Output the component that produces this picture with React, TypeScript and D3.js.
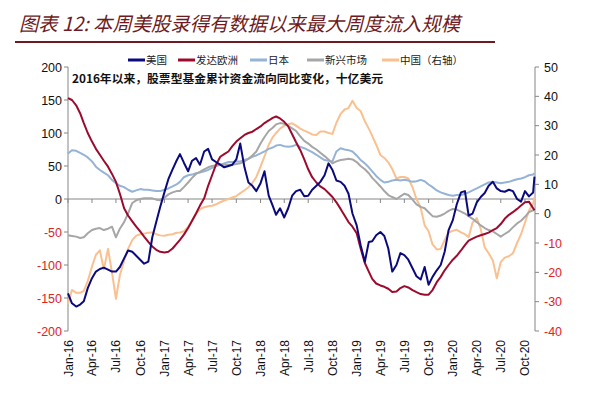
import React from 'react';
import * as d3 from 'd3';

// semi-monthly observations (1st and 16th of each month), last point = 6 Nov 2020
const dates: Date[] = d3
  .range(117)
  .map((i) => new Date(2016, Math.floor(i / 2), i % 2 ? 16 : 1))
  .concat([new Date(2020, 10, 6)]);

// 十亿美元, left axis
const usa = [
  -143, -158, -163, -160, -155, -135, -120, -110, -106, -104,
  -107, -110, -110, -103, -90, -78, -80, -86, -92, -98,
  -95, -58, -35, -12, 10, 30, 45, 58, 68, 55,
  42, 58, 62, 52, 72, 76, 60, 56, 52, 48,
  50, 52, 60, 84, 48, 25, 20, 12, 24, 42,
  5, -10, -24, -14, -28, -14, 5, 12, 14, 4,
  5, 14, 20, 26, 36, 54, 44, 28, 26, 20,
  8, -22, -40, -70, -95, -65, -64, -55, -50, -56,
  -75, -110, -100, -82, -85, -92, -105, -117, -122, -103,
  -130, -118, -108, -100, -80, -47, -32, -8, 10, 12,
  -25, -22, -5, 3, 9, 20, 26, 16, 12, 11,
  14, 12, 0, -4, 12, 4, 10, 34,
];

const europe = [
  153, 150, 142, 130, 115, 100, 87, 76, 67, 58,
  49, 38, 26, 8, -14, -25, -34, -42, -49, -57,
  -65, -72, -77, -80, -81, -80, -75, -68, -62, -54,
  -44, -33, -22, -10, 1, 20, 36, 52, 64, 68,
  72, 80, 87, 92, 97, 100, 102, 106, 110, 115,
  119, 123, 125, 122, 117, 110, 98, 86, 74, 60,
  45, 33, 25, 19, 15, 9, 3, -5, -15, -25,
  -35, -42, -52, -75, -97, -110, -121, -128, -131, -133,
  -136, -141, -140, -135, -132, -134, -138, -141, -144, -145,
  -145, -138, -126, -118, -108, -100, -92, -86, -78, -70,
  -63, -60, -57, -55, -53, -51, -47, -44, -38, -30,
  -24, -20, -15, -10, -5, -4, -14, -17,
];

const japan = [
  69, 74, 73, 70, 67, 63, 57, 49, 44, 40,
  36, 29, 24, 20, 18, 14, 11, 13, 15, 14,
  14, 13, 12, 12, 14, 16, 19, 22, 26, 33,
  36, 37, 39, 40, 42, 44, 47, 50, 52, 54,
  56, 56, 57, 57, 59, 61, 64, 66, 69, 72,
  76, 78, 81, 82, 80, 79, 80, 82, 79, 77,
  74, 71, 67, 63, 59, 58, 57, 72, 77, 75,
  74, 72, 66, 59, 54, 48, 42, 35, 29, 25,
  26, 28, 29, 28, 29, 28, 26, 27, 29, 27,
  22, 18, 13, 10, 8, 6, 5, 6, 6, 8,
  10, 13, 16, 19, 22, 25, 26, 25, 24, 25,
  26, 28, 30, 31, 33, 36, 37, 39,
];

const emerging = [
  -55, -56, -57, -59, -58, -52, -47, -45, -44, -47,
  -45, -42, -58, -45, -35, -22, -6, -2, 0, 1,
  1, 1, -1, -2, 2, 7, 10, 12, 12, 18,
  25, 32, 38, 41, 45, 48, 50, 51, 52, 52,
  52, 52, 53, 54, 57, 61, 66, 72, 84, 94,
  103, 108, 113, 115, 114, 111, 107, 103, 95, 88,
  84, 79, 75, 70, 65, 60, 54, 57, 59, 60,
  61, 60, 56, 50, 45, 39, 32, 26, 19, 12,
  6, 3, 0, 4, 8, 6, -1, -8, -12, -14,
  -20, -26, -27, -25, -22, -18, -15, -16, -19, -22,
  -26, -30, -35, -40, -44, -47, -49, -53, -57, -53,
  -49, -43, -37, -33, -27, -20, -17, -17,
];

// right axis
const china = [
  -30.8, -26, -27, -27, -26.3, -23, -18, -14, -12.5, -19,
  -12, -20, -29, -21, -16, -12, -9, -7.5, -7, -6.8,
  -6.5, -6.4, -7, -7.4, -7.5, -7.2, -7, -6.5, -6.4, -6,
  -4.5, -2.5, 0, 1.5, 2.2, 2.5, 2.7, 3.2, 3.9, 4.5,
  5, 5.5, 6, 7, 8, 9, 10.5, 12.5, 16, 19.5,
  23.5, 26, 27.5, 29, 30, 30.5, 30.8, 30, 29, 28.3,
  27.7, 27, 26.8, 28, 28, 27.5, 27.2, 31, 34, 35.5,
  36, 38.5, 36, 35, 31.5, 29, 26.5, 23.5, 20, 19,
  17.5, 15.2, 12, 12.5, 12.5, 12, 9, 5, 2, -4,
  -6, -10.5, -12.2, -12, -9, -6.5, -5.8, -5.5, -6.4, -7,
  -8, -3, -1.5, -5.2, -11.5, -13.5, -16, -22, -16.5, -15,
  -14.5, -13.5, -10, -7, -3, 1, 3.5, 5.6,
];

const leftTicks = [200, 150, 100, 50, 0, -50, -100, -150, -200];
const rightTicks = [50, 40, 30, 20, 10, 0, -10, -20, -30, -40];

const seriesNames = ['美国', '发达欧洲', '日本', '新兴市场', '中国（右轴）'];
const seriesColors = ['#0A0A7E', '#9C0B2E', '#95B3D7', '#A6A6A6', '#FAC090'];

const W = 603;
const H = 396;
const axisColor = '#868686';
const negColor = '#E0231E';
const numFont = 'Arial, "Liberation Sans", sans-serif';
const cjkFont = '"Noto Sans CJK SC", sans-serif';

export default function App() {
  const x = d3.scaleTime().domain([new Date(2016, 0, 1), new Date(2020, 10, 8)]).range([68, 535]);
  const yL = d3.scaleLinear().domain([-200, 200]).range([331, 67]);
  const yR = d3.scaleLinear().domain([-40, 50]).range([331, 67]);

  const lineL = d3
    .line<number>()
    .x((_, i) => x(dates[i]))
    .y((d) => yL(d));
  const lineR = d3
    .line<number>()
    .x((_, i) => x(dates[i]))
    .y((d) => yR(d));

  const xTicks = d3.timeMonth.every(3)!.range(new Date(2016, 0, 1), new Date(2020, 10, 1));
  const fmt = d3.timeFormat('%b-%y');

  // draw order: china at the back, usa on top
  const drawn = [
    { d: lineR(china), c: seriesColors[4] },
    { d: lineL(japan), c: seriesColors[2] },
    { d: lineL(emerging), c: seriesColors[3] },
    { d: lineL(europe), c: seriesColors[1] },
    { d: lineL(usa), c: seriesColors[0] },
  ];

  const legendX = [128, 178, 250, 307, 382];

  return (
    <svg width={W} height={H} style={{ position: 'absolute', left: 0, top: 0, background: '#fff' }}>
      {/* title */}
      <text
        x={19}
        y={31}
        fontSize={19.5}
        fontStyle="italic"
        fontFamily={cjkFont}
        fill="#6E1A22"
        textLength={441}
        lengthAdjust="spacingAndGlyphs"
      >
        图表 12:  本周美股录得有数据以来最大周度流入规模
      </text>
      <line x1={15} x2={495} y1={42} y2={42} stroke="#6E1A22" strokeWidth={2} />

      {/* legend */}
      {seriesNames.map((n, i) => (
        <g key={n}>
          <line x1={legendX[i]} x2={legendX[i] + 17} y1={60} y2={60} stroke={seriesColors[i]} strokeWidth={3} />
          <text x={legendX[i] + 18} y={64} fontSize={10.5} fontFamily={cjkFont} fill="#222">
            {n}
          </text>
        </g>
      ))}

      {/* annotation */}
      <text
        x={72}
        y={83}
        fontSize={11.5}
        fontWeight="bold"
        fontFamily={cjkFont}
        fill="#111"
        textLength={311}
        lengthAdjust="spacingAndGlyphs"
      >
        2016年以来，股票型基金累计资金流向同比变化，十亿美元
      </text>

      {/* left axis */}
      <line x1={68} x2={68} y1={67} y2={331} stroke={axisColor} />
      {leftTicks.map((t) => (
        <g key={'l' + t}>
          <line x1={64} x2={68} y1={yL(t)} y2={yL(t)} stroke={axisColor} />
          <text
            x={62}
            y={yL(t) + 4.5}
            textAnchor="end"
            fontSize={12.5}
            fontFamily={numFont}
            fill={t < 0 ? negColor : '#111'}
          >
            {t}
          </text>
        </g>
      ))}

      {/* right axis */}
      <line x1={535} x2={535} y1={67} y2={331} stroke={axisColor} />
      {rightTicks.map((t) => (
        <g key={'r' + t}>
          <line x1={535} x2={539} y1={yR(t)} y2={yR(t)} stroke={axisColor} />
          <text
            x={544}
            y={yR(t) + 4.5}
            fontSize={12.5}
            fontFamily={numFont}
            fill={t < 0 ? negColor : '#111'}
          >
            {t}
          </text>
        </g>
      ))}

      {/* x axis on zero line */}
      <line x1={68} x2={535} y1={yL(0)} y2={yL(0)} stroke={axisColor} />
      {xTicks.map((d) => (
        <g key={d.toISOString()}>
          <line x1={x(d)} x2={x(d)} y1={yL(0)} y2={yL(0) + 4} stroke={axisColor} />
          <text
            transform={`translate(${x(d) + 4.5},340) rotate(-90)`}
            textAnchor="end"
            fontSize={12}
            fontFamily={numFont}
            fill="#111"
          >
            {fmt(d)}
          </text>
        </g>
      ))}

      {/* series */}
      {drawn.map((s, i) => (
        <path key={i} d={s.d ?? ''} fill="none" stroke={s.c} strokeWidth={2} strokeLinejoin="round" />
      ))}
    </svg>
  );
}
